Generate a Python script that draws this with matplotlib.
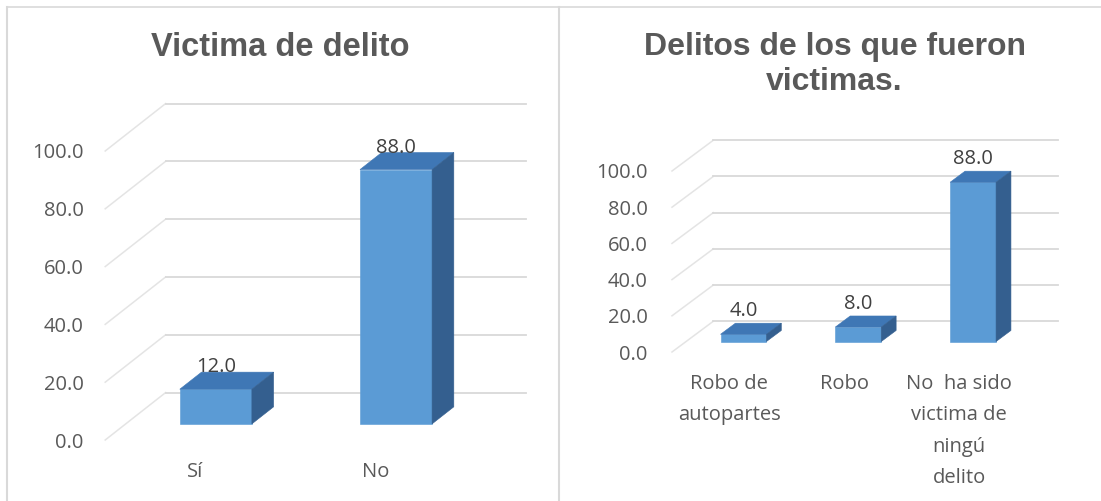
#!/usr/bin/env python3
# -*- coding: utf-8 -*-
"""Dos graficas de columnas 3D (estilo Excel): victimas de delito."""

import matplotlib
matplotlib.use("Agg")
import matplotlib.pyplot as plt
from matplotlib.patches import Polygon
from matplotlib.lines import Line2D

# ============================
# Datos
# ============================
CATS_1 = ["Sí", "No"]
VALS_1 = [12.0, 88.0]
TITLE_1 = "Victima de delito"

CATS_2 = ["Robo de\nautopartes", "Robo", "No  ha sido\nvictima de\nningú\ndelito"]
VALS_2 = [4.0, 8.0, 88.0]
TITLE_2 = "Delitos de los que fueron\nvictimas."

Y_TICKS = [0, 20, 40, 60, 80, 100]

# ============================
# Estilo
# ============================
FRONT = "#5B9BD5"
TOP = "#3F77B5"
SIDE = "#345F8F"
GRID = "#D9D9D9"
TEXT = "#595959"
FONT = ["Open Sans", "DejaVu Sans"]
TITLE_FONT = ["Liberation Sans", "DejaVu Sans"]

W, H = 1101, 501


def draw_panel(ax, cats, vals, dx, dy, ypad, xpad, lab_off):
    """Columnas con profundidad: cara frontal + superior + lateral."""
    n = len(cats)
    d0, dd, w = 0.34, 0.36, 0.40
    x0 = -0.5
    xend = n - 0.5 + dx

    # pared lateral (diagonales) y pared del fondo
    for v in Y_TICKS:
        ax.plot([x0, x0 + dx], [v, v + dy], color="#E4E4E4", lw=1.1, zorder=1,
                clip_on=False)
        ax.plot([x0 + dx, xend], [v + dy, v + dy], color=GRID, lw=1.3, zorder=1,
                clip_on=False)

    for i, v in enumerate(vals):
        cx = i + d0 * dx
        y0 = d0 * dy
        ax.bar(cx, v, width=w, bottom=y0, color=FRONT, edgecolor=FRONT,
               lw=0.4, zorder=3)
        xl, xr, y1 = cx - w / 2, cx + w / 2, y0 + v
        ox, oy = dd * dx, dd * dy
        ax.add_patch(Polygon([(xl, y1), (xr, y1), (xr + ox, y1 + oy), (xl + ox, y1 + oy)],
                             closed=True, fc=TOP, ec=TOP, lw=0.4, zorder=3))
        ax.add_patch(Polygon([(xr, y0), (xr + ox, y0 + oy), (xr + ox, y1 + oy), (xr, y1)],
                             closed=True, fc=SIDE, ec=SIDE, lw=0.4, zorder=3))
        ax.annotate(f"{v:.1f}", (cx, y1 + oy), xytext=(0, lab_off),
                    textcoords="offset points", ha="center", va="baseline",
                    fontsize=14.5, color="#404040", family=FONT, zorder=4)

    ax.set_xlim(x0, xend)
    ax.set_ylim(0, 120)
    ax.set_yticks(Y_TICKS)
    ax.set_yticklabels([f"{t:.1f}" for t in Y_TICKS])
    ax.set_xticks(range(n))
    ax.set_xticklabels(cats)
    ax.tick_params(axis="y", length=0, pad=ypad, labelsize=14.5, labelcolor=TEXT)
    ax.tick_params(axis="x", length=0, pad=xpad, labelsize=14.5, labelcolor=TEXT)
    for t in ax.get_xticklabels() + ax.get_yticklabels():
        t.set_family(FONT)
    for t in ax.get_xticklabels():
        t.set_linespacing(1.75)
        t.set_va("top")
    for s in ax.spines.values():
        s.set_visible(False)
    ax.set_facecolor("none")


def px_axes(fig, left, right, bottom, top):
    return fig.add_axes([left / W, 1 - bottom / H, (right - left) / W, (bottom - top) / H])


def main():
    fig = plt.figure(figsize=(W / 100, H / 100), dpi=100)
    fig.patch.set_facecolor("white")

    # bordes de los paneles
    fig.add_artist(Line2D([7 / W, 1], [1 - 6.5 / H] * 2, color=GRID, lw=1.2))
    fig.add_artist(Line2D([7 / W] * 2, [0, 1 - 6.5 / H], color=GRID, lw=1.5))
    fig.add_artist(Line2D([559 / W] * 2, [0, 1 - 6.5 / H], color=GRID, lw=1.5))

    # panel izquierdo: 2.89 px por unidad
    ax1 = px_axes(fig, 105.2, 526, 440, 440 - 120 * 2.89)
    draw_panel(ax1, CATS_1, VALS_1, dx=0.335, dy=16.4, ypad=15.5, xpad=16, lab_off=0)
    fig.text(280 / W, 1 - 32 / H, TITLE_1, ha="center", va="top", fontsize=23.5,
             fontweight="bold", color=TEXT, family=TITLE_FONT)

    # panel derecho: 1.81 px por unidad
    ax2 = px_axes(fig, 672, 1057.8, 352, 352 - 120 * 1.81)
    draw_panel(ax2, CATS_2, VALS_2, dx=0.36, dy=17.0, ypad=17.5, xpad=16, lab_off=5)
    fig.text(834.5 / W, 1 - 32 / H, TITLE_2, ha="center", va="top", fontsize=23,
             fontweight="bold", color=TEXT, family=TITLE_FONT, linespacing=1.2)

    fig.savefig("out.png", dpi=100, facecolor="white")
    plt.close(fig)


if __name__ == "__main__":
    main()
